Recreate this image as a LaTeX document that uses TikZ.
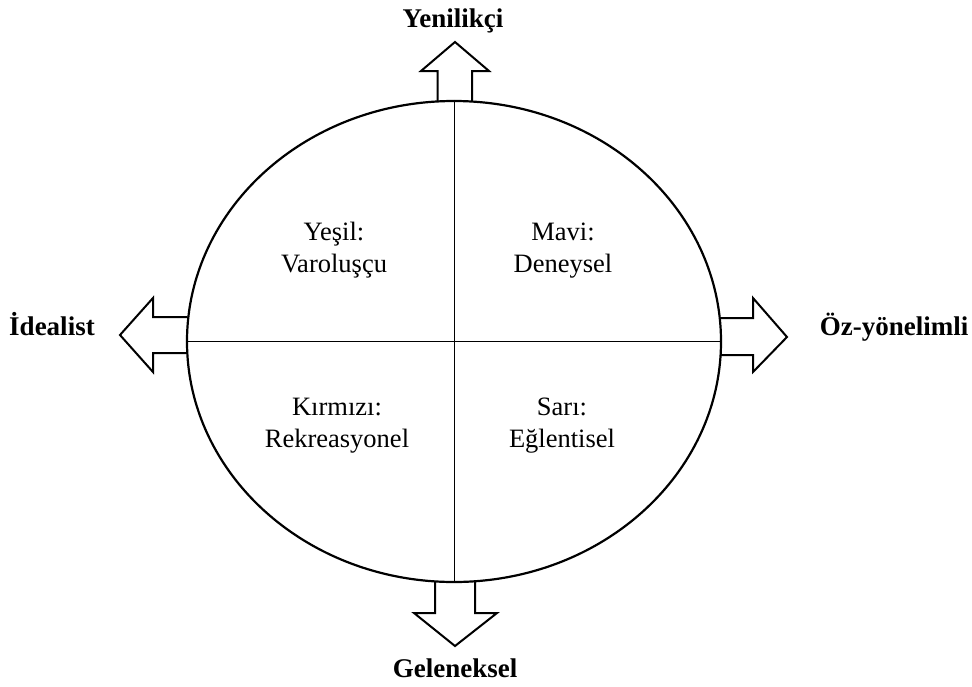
\documentclass[tikz,border=0pt]{standalone}
\usepackage{fontspec}
\setmainfont{Liberation Serif}
\usetikzlibrary{shapes.geometric}
\begin{document}
\begin{tikzpicture}[x=1pt,y=-1pt,
  quad/.style={align=center,anchor=base,font=\fontsize{26.5}{32}\selectfont},
  axislabel/.style={font=\fontsize{27}{32}\selectfont\bfseries,anchor=base},
  bigarrow/.style={line width=2pt,line join=miter}]
\useasboundingbox (0,0) rectangle (972,686);
\node[draw,ellipse,line width=2.2pt,minimum width=534pt,minimum height=481pt,inner sep=0pt] (E) at (454,341.5) {};
\draw[line width=1pt] (E.north) -- (E.south);
\draw[line width=1pt] (E.west) -- (E.east);
% arrows
\draw[bigarrow] (437.5,101.5) -- (437.5,71) -- (421,71) -- (455,42) -- (489,71) -- (472,71) -- (472,101.5);
\draw[bigarrow] (435,581.5) -- (435,613) -- (414,613) -- (455,646) -- (497,613) -- (475,613) -- (475,581.5);
\draw[bigarrow] (187.5,317) -- (153,317) -- (153,298) -- (120,335) -- (153,372) -- (153,353) -- (187.5,353);
\draw[bigarrow] (720.5,318) -- (753,318) -- (753,298) -- (787,337) -- (753,372) -- (753,355) -- (720.5,355);
% axis labels
\node[axislabel] (top) at (453,27) {Yenilikçi};
\node[axislabel] (bottom) at (455,677) {Geleneksel};
\node[axislabel] (left) at (52,335) {İdealist};
\node[axislabel] (right) at (894,335) {Öz-yönelimli};
% quadrant labels
\node[quad] (q1) at (334,272) {Yeşil:\\Varoluşçu};
\node[quad] (q2) at (563,272) {Mavi:\\Deneysel};
\node[quad] (q3) at (337,447) {Kırmızı:\\Rekreasyonel};
\node[quad] (q4) at (562,447) {Sarı:\\Eğlentisel};
\end{tikzpicture}
\end{document}
